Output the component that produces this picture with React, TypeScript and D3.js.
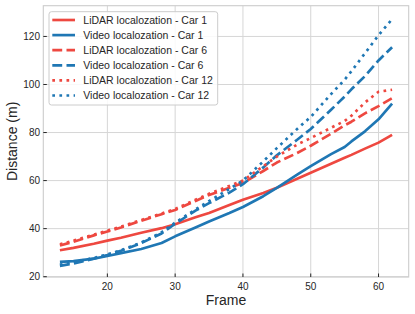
import React from "react";
import * as d3 from "d3";

const frames = [13, 15, 18, 20, 22, 25, 28, 30, 33, 35, 38, 40, 43, 45, 48, 50, 53, 55, 56, 58, 60, 62];
const lidarCar1 = [31, 32, 33.7, 35, 36.2, 38.3, 40.2, 41.8, 44.7, 46.5, 49.8, 52, 54.8, 57, 60.8, 63.3, 67, 69.5, 70.7, 73.3, 75.8, 79];
const videoCar1 = [26.2, 26.5, 27.5, 28.6, 29.8, 31.5, 34, 36.8, 40.5, 43, 46.5, 49, 53.5, 57, 62.5, 66, 71, 74, 76.3, 80.5, 85.5, 92];
const lidarCar6 = [33, 34.5, 37.2, 38.8, 40.5, 43.3, 46, 47.8, 51.5, 54, 57, 59, 64, 67.5, 71.5, 74.5, 79.5, 83, 84.5, 88, 91, 94.3];
const videoCar6 = [24.5, 25.5, 27.5, 29, 30.8, 34, 38, 42, 47.5, 50.6, 55, 58.5, 65.5, 70.5, 77, 81.5, 89.5, 95, 98, 103.5, 110, 115.5];
const lidarCar12 = [33.5, 35, 37.5, 39.2, 40.8, 43.6, 46.3, 48.2, 52, 54.5, 57.8, 60, 66, 70, 75, 77.7, 82, 84.8, 87, 92.5, 97, 97.8];
const videoCar12 = [25, 26, 27.8, 29.3, 31, 34.2, 38.5, 42.5, 48, 51.5, 56.5, 60, 68, 73.5, 81.5, 86.5, 96, 102, 105.5, 113, 120.5, 127.2];

const seriesNames = [
  "LiDAR localozation - Car 1",
  "Video localozation - Car 1",
  "LiDAR localozation - Car 6",
  "Video localozation - Car 6",
  "LiDAR localozation - Car 12",
  "Video localozation - Car 12",
];
const seriesValues = [lidarCar1, videoCar1, lidarCar6, videoCar6, lidarCar12, videoCar12];
const xTicks = [20, 30, 40, 50, 60];
const yTicks = [20, 40, 60, 80, 100, 120];

const RED = "#ee4840";
const BLUE = "#1f77b4";
const colors = [RED, BLUE, RED, BLUE, RED, BLUE];
const dashes = ["none", "none", "9.9 4.3", "9.9 4.3", "2.7 4.4", "2.7 4.4"];

const W = 415;
const H = 314;
const left = 43.3;
const right = 408.7;
const top = 5.7;
const bottom = 277;
const FONT = "'Liberation Sans', Arial, Helvetica, sans-serif";
const TXT = "#262626";
const GRID = "#d6d6d6";

export default function App() {
  const x = d3.scaleLinear().domain([10.55, 64.45]).range([left, right]);
  const y = d3.scaleLinear().domain([19.87, 132.8]).range([bottom, top]);
  const line = d3
    .line<[number, number]>()
    .x((d) => x(d[0]))
    .y((d) => y(d[1]));

  const legX = 49;
  const legY = 11.7;
  const legW = 168.7;
  const legH = 93.3;
  const rowH = 15.1;

  return (
    <svg
      width={W}
      height={H}
      style={{ position: "fixed", left: 0, top: 0, background: "#fff" }}
      fontFamily={FONT}
    >
      <rect x={0} y={0} width={W} height={H} fill="#fff" />
      {xTicks.map((t) => (
        <line key={"gx" + t} x1={x(t)} x2={x(t)} y1={top} y2={bottom} stroke={GRID} strokeWidth={1} />
      ))}
      {yTicks.map((t) => (
        <line key={"gy" + t} x1={left} x2={right} y1={y(t)} y2={y(t)} stroke={GRID} strokeWidth={1} />
      ))}
      <rect x={left} y={top} width={right - left} height={bottom - top} fill="none" stroke="#cccccc" strokeWidth={1.1} />
      {xTicks.map((t) => (
        <g key={"tx" + t}>
          <line x1={x(t)} x2={x(t)} y1={bottom} y2={bottom - 3.5} stroke={TXT} strokeWidth={1} />
          <text x={x(t)} y={289.5} textAnchor="middle" fontSize={10} fill={TXT}>
            {t}
          </text>
        </g>
      ))}
      {yTicks.map((t) => (
        <g key={"ty" + t}>
          <line x1={left} x2={left + 3.5} y1={y(t)} y2={y(t)} stroke={TXT} strokeWidth={1} />
          <text x={40} y={y(t) + 3.6} textAnchor="end" fontSize={10} fill={TXT}>
            {t}
          </text>
        </g>
      ))}
      <text x={(left + right) / 2} y={305} textAnchor="middle" fontSize={14} fill={TXT}>
        Frame
      </text>
      <text
        transform={`translate(17,${(top + bottom) / 2}) rotate(-90)`}
        textAnchor="middle"
        fontSize={14}
        fill={TXT}
      >
        Distance (m)
      </text>
      {seriesValues.map((vals, i) => (
        <path
          key={"s" + i}
          d={line(frames.map((f, j) => [f, vals[j]] as [number, number])) || ""}
          fill="none"
          stroke={colors[i]}
          strokeWidth={2.67}
          strokeDasharray={dashes[i]}
          strokeLinejoin="round"
        />
      ))}
      <rect
        x={legX}
        y={legY}
        width={legW}
        height={legH}
        rx={2.5}
        fill="#fff"
        fillOpacity={0.85}
        stroke="#cccccc"
        strokeWidth={1}
      />
      {seriesNames.map((name, i) => {
        const ry = 20 + i * rowH;
        return (
          <g key={"l" + i}>
            <line x1={52.3} x2={75} y1={ry} y2={ry} stroke={colors[i]} strokeWidth={2.67} strokeDasharray={dashes[i]} />
            <text x={83.3} y={ry + 3.7} fontSize={10.5} fill={TXT}>
              {name}
            </text>
          </g>
        );
      })}
    </svg>
  );
}
